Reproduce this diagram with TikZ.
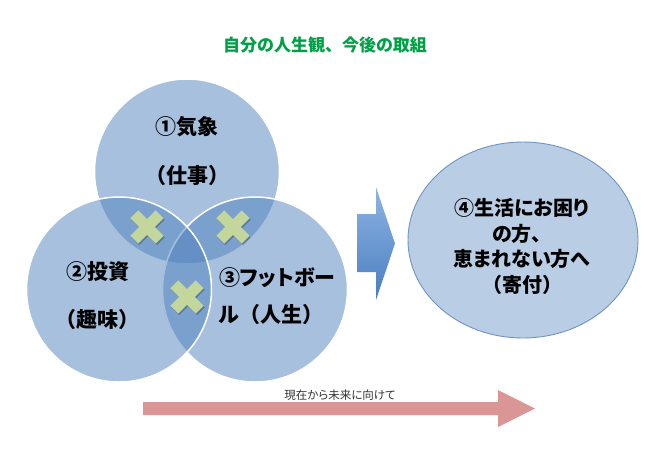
\documentclass[tikz,border=0pt]{standalone}
\usepackage{fontspec}
\setmainfont{Noto Sans CJK JP}[RawFeature=+palt]
\newfontfamily\fullwidth{Noto Sans CJK JP}
\usetikzlibrary{shapes.geometric}

\definecolor{vennblue}{RGB}{79,129,189}
\definecolor{goalfill}{RGB}{185,205,229}
\definecolor{goalline}{RGB}{110,148,200}
\definecolor{crossgreen}{RGB}{195,214,155}
\definecolor{titlegreen}{RGB}{0,160,70}
\definecolor{timepink}{RGB}{217,150,148}

\tikzset{
  venn/.style={circle, minimum size=185pt, inner sep=0pt, fill=vennblue, fill opacity=0.5, draw=white, line width=1.5pt},
  goal/.style={ellipse, minimum width=230pt, minimum height=196pt, fill=goalfill, draw=goalline, line width=0.9pt},
  venntext/.style={font=\bfseries\fontsize{21}{25}\selectfont, inner sep=0pt},
}

\begin{document}
\begin{tikzpicture}[x=1pt, y=-1pt]
        \useasboundingbox (0,0) rectangle (650,450);

        \node (title) at (325,45) [font=\bfseries\fontsize{17}{20}\selectfont, text=titlegreen] {自分の人生観{\fullwidth 、}今後の取組};

        % circles: top first, then right, then left
        \node[venn] (kisho) at (187,171.5) {};
        \node[venn] (football) at (255,289.5) {};
        \node[venn] (toushi) at (119,289.5) {};

        % crosses in the overlaps
        \foreach \x/\y in {147/227, 233/227, 187/297} {
            \fill[black, opacity=0.25, shift={(\x+1.2,\y+1.5)}, rotate=45] (-18,-5.5) rectangle (18,5.5) (-5.5,-18) rectangle (5.5,18);
            \fill[crossgreen, shift={(\x,\y)}, rotate=45] (-18,-5.5) rectangle (18,5.5) (-5.5,-18) rectangle (5.5,18);
        }

        \node[venntext] (kishoname) at (187,127) {①気象};
        \node[venntext] (kishonote) at (187,176) {{\fullwidth （}仕事{\fullwidth ）}};
        \node[venntext] (toushiname) at (98,272) {②投資};
        \node[venntext] (toushinote) at (97,320) {{\fullwidth （}趣味{\fullwidth ）}};
        \node[venntext, anchor=west] (footballname) at (219,278) {③フットボー};
        \node[venntext, anchor=west] (footballnote) at (219,315) {ル{\fullwidth （}人生{\fullwidth ）}};

        % block arrow to the goal
        \shade[top color={rgb,255:red,142;green,180;blue,227}, bottom color={rgb,255:red,74;green,126;blue,192}]
            (357,214) -- (376,214) -- (376,187) -- (395,243.5) -- (376,300) -- (376,272) -- (357,272) -- cycle;

        \node[goal] (help) at (523,240) {};
        \node (helptext) at (522,246.5) [font=\bfseries\fontsize{20}{25.7}\selectfont, align=center, inner sep=0pt] {④生活にお困り\\の方{\fullwidth 、}\\恵まれない方へ\\{\fullwidth （}寄付{\fullwidth ）}};

        % time line
        \fill[timepink] (143,402) -- (498,402) -- (498,390) -- (535,408.5) -- (498,427) -- (498,415) -- (143,415) -- cycle;
        \node (timelabel) at (340,395) [font=\fontsize{11.5}{14}\selectfont, text=black!80] {現在から未来に向けて};
    \end{tikzpicture}
\end{document}
